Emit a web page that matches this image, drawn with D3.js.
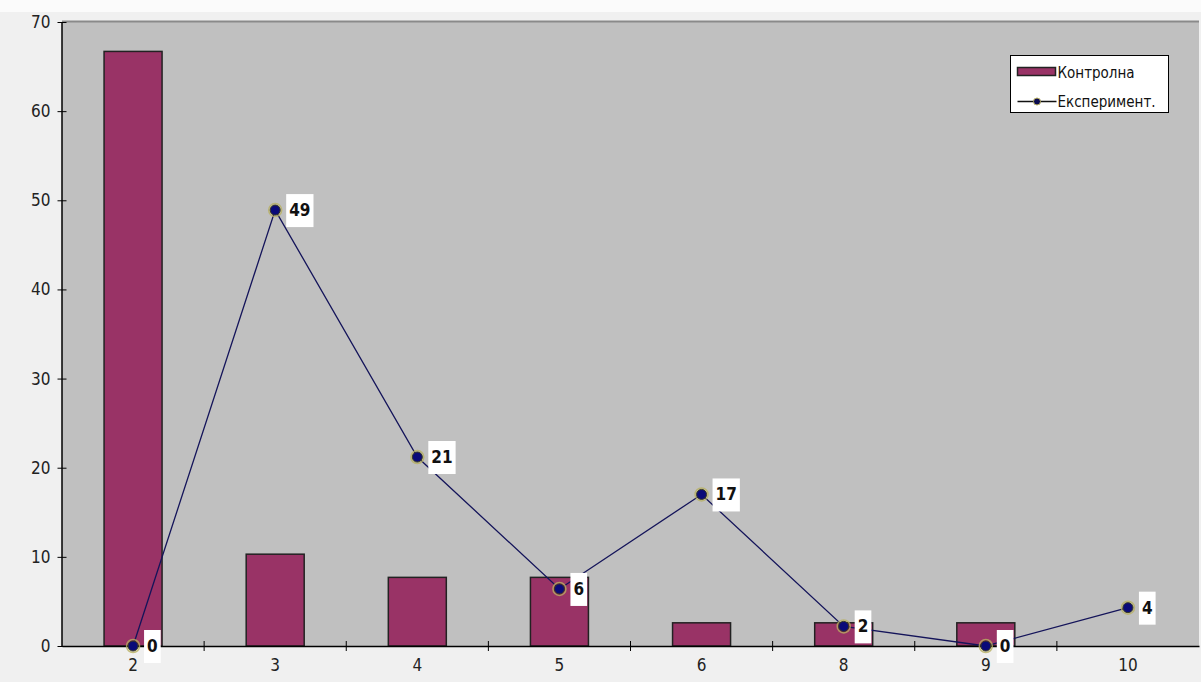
<!DOCTYPE html>
<html>
<head>
<meta charset="utf-8">
<script src="https://cdn.jsdelivr.net/npm/d3@7"></script>
<style>
  html, body { margin: 0; padding: 0; background: #f0f0f0; }
  svg { display: block; }
</style>
</head>
<body>
<svg id="chart" width="1201" height="682"></svg>
<script>
// ---- data ----
const categories = ["2", "3", "4", "5", "6", "8", "9", "10"];
const controlValues = [66.7, 10.3, 7.7, 7.7, 2.6, 2.6, 2.6, 0];
const experimentValues = [0, 48.9, 21.2, 6.4, 17.0, 2.2, 0, 4.3];
const yTicks = [0, 10, 20, 30, 40, 50, 60, 70];
const seriesNames = ["Контролна", "Експеримент."];

// ---- layout ----
const W = 1201, H = 682;
const m = { left: 62, right: 2, top: 22, bottom: 36 };
const svg = d3.select("#chart");
const font = "'DejaVu Sans Condensed', 'DejaVu Sans', sans-serif";

// top white strip
svg.append("rect").attr("x", 0).attr("y", 0).attr("width", W).attr("height", 12).attr("fill", "#fbfbfb");

const x = d3.scaleBand().domain(categories).range([m.left, W - m.right]).paddingInner(0).paddingOuter(0);
const y = d3.scaleLinear().domain([0, 70]).range([H - m.bottom, m.top]);

// plot area
svg.append("rect")
  .attr("x", m.left).attr("y", m.top)
  .attr("width", W - m.right - m.left).attr("height", y(0) - m.top)
  .attr("fill", "#c0c0c0");
svg.append("line")
  .attr("x1", m.left).attr("x2", W - m.right)
  .attr("y1", m.top - 0.5).attr("y2", m.top - 0.5)
  .attr("stroke", "#8a8a8a").attr("stroke-width", 2);

// bars
const barW = 58;
svg.append("g").selectAll("rect")
  .data(controlValues)
  .join("rect")
  .attr("x", (d, i) => x(categories[i]) + x.bandwidth() / 2 - barW / 2)
  .attr("y", d => y(d))
  .attr("width", barW)
  .attr("height", d => y(0) - y(d))
  .attr("fill", "#993366")
  .attr("stroke", "#222")
  .attr("stroke-width", 1.5)
  .attr("display", d => d > 0 ? null : "none");

// axes
const yAxis = d3.axisLeft(y).tickValues(yTicks).tickSize(0).tickPadding(11);
const gy = svg.append("g").attr("transform", `translate(${m.left - 0.5},0)`).call(yAxis);
gy.select(".domain").attr("stroke", "#000").attr("stroke-width", 1.5);
gy.selectAll(".tick text").attr("font-family", font).attr("font-size", 17).attr("fill", "#222");
gy.selectAll(".tick").append("line").attr("x1", -4).attr("x2", 5).attr("stroke", "#000");

const xAxis = d3.axisBottom(x).tickSize(0).tickPadding(13);
const gx = svg.append("g").attr("transform", `translate(0,${y(0)})`).call(xAxis);
gx.select(".domain").attr("stroke", "#000").attr("stroke-width", 1.5);
gx.selectAll(".tick text").attr("font-family", font).attr("font-size", 17).attr("fill", "#222");
// tick marks at category boundaries
svg.append("g").selectAll("line")
  .data(categories.slice(1))
  .join("line")
  .attr("x1", d => x(d)).attr("x2", d => x(d))
  .attr("y1", y(0) - 5).attr("y2", y(0) + 5)
  .attr("stroke", "#000").attr("stroke-width", 1);

// line series
const cx = (i) => x(categories[i]) + x.bandwidth() / 2;
const line = d3.line().x((d, i) => cx(i)).y(d => y(d));
svg.append("path")
  .datum(experimentValues)
  .attr("d", line)
  .attr("fill", "none")
  .attr("stroke", "#14145a")
  .attr("stroke-width", 1.3);

// markers
const mk = svg.append("g");
mk.selectAll("circle.halo")
  .data(experimentValues)
  .join("circle")
  .attr("class", "halo")
  .attr("cx", (d, i) => cx(i)).attr("cy", d => y(d))
  .attr("r", 6.5)
  .attr("fill", "none")
  .attr("stroke", "#b8b060").attr("stroke-width", 1.5).attr("opacity", 0.8);
mk.selectAll("circle.dot")
  .data(experimentValues)
  .join("circle")
  .attr("class", "dot")
  .attr("cx", (d, i) => cx(i)).attr("cy", d => y(d))
  .attr("r", 5)
  .attr("fill", "#0a0a78")
  .attr("stroke", "#3a3a20").attr("stroke-width", 1);

// data labels
const fmt = d3.format(".0f");
const lbl = svg.append("g");
experimentValues.forEach((v, i) => {
  const t = fmt(v);
  const bx = cx(i) + 11, by = y(v) - 16;
  const r = lbl.append("rect")
    .attr("x", bx).attr("y", by)
    .attr("height", 33)
    .attr("fill", "#ffffff");
  const tx = lbl.append("text")
    .attr("x", bx + 3).attr("y", y(v) + 6)
    .attr("font-family", font).attr("font-size", 17).attr("font-weight", "bold")
    .attr("fill", "#111")
    .text(t);
  r.attr("width", tx.node().getComputedTextLength() + 6);
});

// legend
const lg = svg.append("g").attr("transform", "translate(1010.5,55.5)");
lg.append("rect").attr("width", 158).attr("height", 57).attr("fill", "#fff").attr("stroke", "#000").attr("stroke-width", 1);
lg.append("rect").attr("x", 7).attr("y", 12).attr("width", 38).attr("height", 8)
  .attr("fill", "#993366").attr("stroke", "#222").attr("stroke-width", 1.5);
lg.append("text").attr("x", 47).attr("y", 22).attr("font-family", font).attr("font-size", 15).attr("fill", "#111").text(seriesNames[0]);
lg.append("line").attr("x1", 7).attr("x2", 46).attr("y1", 46).attr("y2", 46).attr("stroke", "#111").attr("stroke-width", 1.3);
lg.append("circle").attr("cx", 26.5).attr("cy", 46).attr("r", 3.5).attr("fill", "#0a0a50").attr("stroke", "#b8b060").attr("stroke-width", 1);
lg.append("text").attr("x", 47).attr("y", 51).attr("font-family", font).attr("font-size", 15).attr("fill", "#111").text(seriesNames[1]);
</script>
</body>
</html>
